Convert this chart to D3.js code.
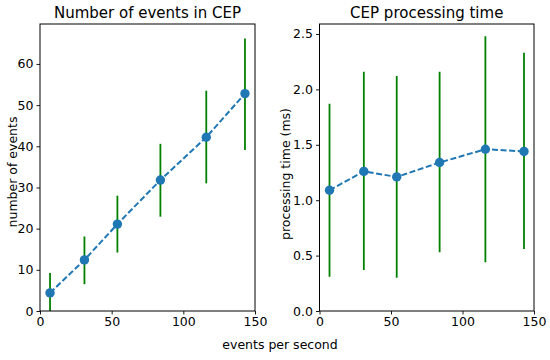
<!DOCTYPE html>
<html>
<head>
<meta charset="utf-8">
<script src="https://cdn.jsdelivr.net/npm/d3@7"></script>
<style>
  body { margin: 0; background: #fff; }
  text { font-family: "DejaVu Sans", sans-serif; fill: #000; }
</style>
</head>
<body>
<div id="chart"></div>
<script>
// data
var rates = [7, 31, 54, 84, 116, 143];
var eventCounts = [4.4, 12.4, 21.1, 31.8, 42.2, 52.8];
var eventErrLow = [-0.4, 6.5, 14.2, 22.9, 31.0, 39.1];
var eventErrHigh = [9.2, 18.1, 28.0, 40.6, 53.5, 66.2];
var procTimes = [1.09, 1.26, 1.21, 1.34, 1.46, 1.44];
var procErrLow = [0.31, 0.37, 0.30, 0.53, 0.44, 0.56];
var procErrHigh = [1.87, 2.16, 2.12, 2.16, 2.48, 2.33];
var xTicks = [0, 50, 100, 150];
var countTicks = [0, 10, 20, 30, 40, 50, 60];
var timeTicks = [0, 0.5, 1.0, 1.5, 2.0, 2.5];

var W = 550, H = 360;
var svg = d3.select("#chart").append("svg")
    .attr("width", W).attr("height", H);

// draw one panel
function panel(opts) {
  var x = d3.scaleLinear().domain([0, 150]).range([opts.left, opts.right]);
  var y = d3.scaleLinear().domain([0, opts.ymax]).range([311, 24]);

  var g = svg.append("g");
  var clipId = "clip" + opts.id;
  g.append("clipPath").attr("id", clipId)
    .append("rect")
      .attr("x", opts.left).attr("y", 24)
      .attr("width", opts.right - opts.left).attr("height", 311 - 24);

  var plot = g.append("g").attr("clip-path", "url(#" + clipId + ")");

  // error bars
  plot.selectAll("line.err")
    .data(rates)
    .enter().append("line")
      .attr("class", "err")
      .attr("x1", function(d) { return x(d); })
      .attr("x2", function(d) { return x(d); })
      .attr("y1", function(d, i) { return y(opts.lo[i]); })
      .attr("y2", function(d, i) { return y(opts.hi[i]); })
      .attr("stroke", "green")
      .attr("stroke-width", 1.8);

  // dashed line
  plot.append("path")
    .datum(rates)
    .attr("fill", "none")
    .attr("stroke", "#1f77b4")
    .attr("stroke-width", 2)
    .attr("stroke-dasharray", "6,2.6")
    .attr("d", d3.line()
      .x(function(d) { return x(d); })
      .y(function(d, i) { return y(opts.vals[i]); }));

  plot.selectAll("circle")
    .data(rates)
    .enter().append("circle")
      .attr("cx", function(d) { return x(d); })
      .attr("cy", function(d, i) { return y(opts.vals[i]); })
      .attr("r", 4.7)
      .attr("fill", "#1f77b4");

  // axes
  g.append("g")
    .attr("transform", "translate(0,311)")
    .call(d3.axisBottom(x).tickValues(xTicks).tickSize(3.5).tickPadding(3).tickFormat(d3.format("d")))
    .call(styleAxis);

  g.append("g")
    .attr("transform", "translate(" + opts.left + ",0)")
    .call(d3.axisLeft(y).tickValues(opts.ticks).tickSize(3.5).tickPadding(3).tickFormat(opts.fmt))
    .call(styleAxis);

  // box
  g.append("rect")
    .attr("x", opts.left).attr("y", 24)
    .attr("width", opts.right - opts.left).attr("height", 311 - 24)
    .attr("fill", "none").attr("stroke", "#000").attr("stroke-width", 1);

  g.append("text")
    .attr("x", (opts.left + opts.right) / 2).attr("y", 18)
    .attr("text-anchor", "middle")
    .style("font-size", "15px")
    .text(opts.title);

  g.append("text")
    .attr("transform", "translate(" + opts.ylabelX + "," + opts.ylabelY + ") rotate(-90)")
    .attr("text-anchor", "middle")
    .style("font-size", "12.5px")
    .text(opts.ylabel);
}

function styleAxis(sel) {
  sel.select(".domain").remove();
  sel.selectAll(".tick line").attr("stroke", "#000").attr("stroke-width", 0.9);
  sel.selectAll(".tick text").style("font-size", "12.5px").attr("fill", "#000");
}

panel({
  id: 1, left: 40, right: 255, ymax: 69.7,
  vals: eventCounts, lo: eventErrLow, hi: eventErrHigh,
  ticks: countTicks, fmt: d3.format("d"),
  title: "Number of events in CEP", ylabel: "number of events",
  ylabelX: 17, ylabelY: 172
});

panel({
  id: 2, left: 319.5, right: 534, ymax: 2.59,
  vals: procTimes, lo: procErrLow, hi: procErrHigh,
  ticks: timeTicks, fmt: d3.format(".1f"),
  title: "CEP processing time", ylabel: "processing time (ms)",
  ylabelX: 290, ylabelY: 174
});

svg.append("text")
  .attr("x", 280).attr("y", 349)
  .attr("text-anchor", "middle")
  .style("font-size", "12.5px")
  .text("events per second");
</script>
</body>
</html>
